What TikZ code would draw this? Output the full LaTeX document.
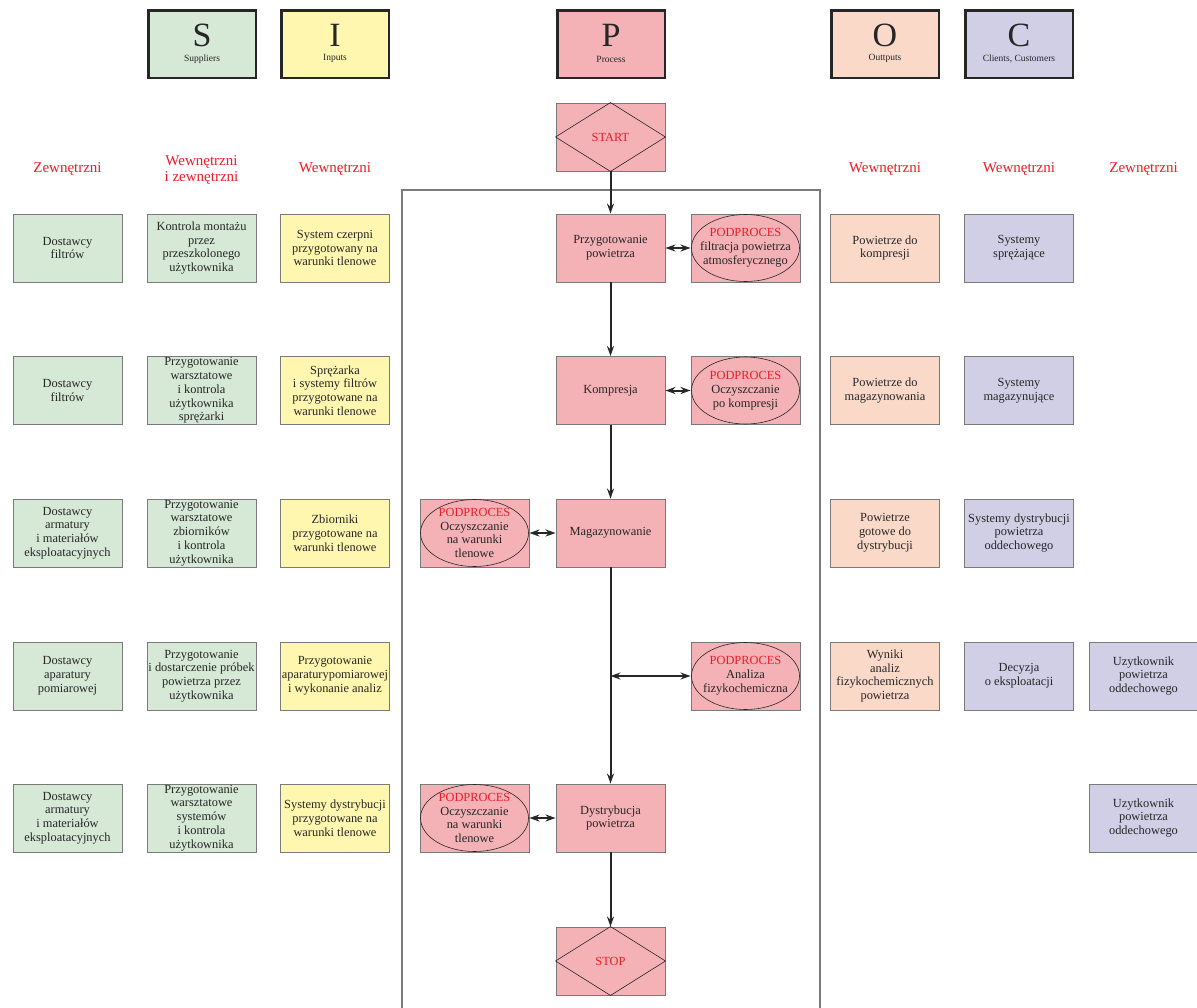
\documentclass[tikz,border=0pt]{standalone}
\usepackage{fontspec}
\setmainfont{Liberation Serif}
\usetikzlibrary{arrows.meta}

\definecolor{sgreen}{HTML}{D6E8D6}
\definecolor{iyellow}{HTML}{FFF7B0}
\definecolor{ppink}{HTML}{F4B1B6}
\definecolor{opeach}{HTML}{FAD9C9}
\definecolor{clav}{HTML}{D1CFE6}
\definecolor{inkgray}{HTML}{262626}
\definecolor{edgegray}{HTML}{7A7A7A}
\definecolor{podred}{HTML}{EE1C25}

\newcommand{\sipocwidth}{109pt}
\newcommand{\sipocheight}{68pt}

\begin{document}
\begin{tikzpicture}[x=1pt, y=-1pt,
	box/.style={rectangle, draw=edgegray, line width=0.9pt, minimum width=\sipocwidth, minimum height=\sipocheight, inner sep=0pt, align=center, text=inkgray, font=\fontsize{12.4}{13.8}\selectfont},
	hdr/.style={rectangle, draw=inkgray, line width=2.5pt, minimum width=107.5pt, minimum height=67.5pt},
	letter/.style={inner sep=0pt, text=inkgray, font=\fontsize{34}{34}\selectfont},
	sub/.style={inner sep=0pt, text=inkgray, font=\fontsize{9.5}{10}\selectfont},
	who/.style={text=podred, align=center, font=\fontsize{15}{16}\selectfont},
	flow/.style={draw=inkgray, line width=2pt, -{Stealth[length=10pt,width=7pt]}},
	twoway/.style={draw=inkgray, line width=2pt, {Stealth[length=10pt,width=7pt]}-{Stealth[length=10pt,width=7pt]}}]
				\useasboundingbox (0,0) rectangle (1197,1007);
				% Draw the S I P O C headers
				\node [hdr, fill=sgreen] (S) at (202,44) {};
				\node [letter] (Sl) at (202,35) {S};
				\node [sub] (Sn) at (202,59) {Suppliers};
				\node [hdr, fill=iyellow] (I) at (335,44) {};
				\node [letter] (Il) at (335,35) {I};
				\node [sub] (In) at (335,58) {Inputs};
				\node [hdr, fill=ppink] (P) at (611,44) {};
				\node [letter] (Pl) at (611,35) {P};
				\node [sub] (Pn) at (611,59) {Process};
				\node [hdr, fill=opeach] (O) at (885,44) {};
				\node [letter] (Ol) at (885,35) {O};
				\node [sub] (On) at (885,58) {Outtputs};
				\node [hdr, fill=clav] (C) at (1019,44) {};
				\node [letter] (Cl) at (1019,35) {C};
				\node [sub] (Cn) at (1019,59) {Clients, Customers};
				% Who is who
				\node [who] (zs) at (67.5,169) {Zewnętrzni};
				\node [who] (wz) at (201.5,170) {Wewnętrzni\\i zewnętrzni};
				\node [who] (wi) at (335,169) {Wewnętrzni};
				\node [who] (wo) at (885,169) {Wewnętrzni};
				\node [who] (wc) at (1019,169) {Wewnętrzni};
				\node [who] (ze) at (1143.5,169) {Zewnętrzni};
				% The frame round the process
				\draw [edgegray, line width=1.2pt] (402,1008) -- (402,190) -- (820,190) -- (820,1008);
				% Suppliers
				\node [box, fill=sgreen] (s1) at (67.5,248) {Dostawcy\\filtrów};
				\node [box, fill=sgreen] (s2) at (67.5,390.5) {Dostawcy\\filtrów};
				\node [box, fill=sgreen] (s3) at (67.5,533) {Dostawcy\\armatury\\i materiałów\\eksploatacyjnych};
				\node [box, fill=sgreen] (s4) at (67.5,676) {Dostawcy\\aparatury\\pomiarowej};
				\node [box, fill=sgreen] (s5) at (67.5,818) {Dostawcy\\armatury\\i materiałów\\eksploatacyjnych};
				\node [box, fill=sgreen] (t1) at (201.5,248) {Kontrola montażu\\przez\\przeszkolonego\\użytkownika};
				\node [box, fill=sgreen] (t2) at (201.5,390.5) {Przygotowanie\\warsztatowe\\i kontrola\\użytkownika\\sprężarki};
				\node [box, fill=sgreen] (t3) at (201.5,533) {Przygotowanie\\warsztatowe\\zbiorników\\i kontrola\\użytkownika};
				\node [box, fill=sgreen] (t4) at (201.5,676) {Przygotowanie\\i dostarczenie próbek\\powietrza przez\\użytkownika};
				\node [box, fill=sgreen] (t5) at (201.5,818) {Przygotowanie\\warsztatowe\\systemów\\i kontrola\\użytkownika};
				% Inputs
				\node [box, fill=iyellow] (i1) at (335,248) {System czerpni\\przygotowany na\\warunki tlenowe};
				\node [box, fill=iyellow] (i2) at (335,390.5) {Sprężarka\\i systemy filtrów\\przygotowane na\\warunki tlenowe};
				\node [box, fill=iyellow] (i3) at (335,533) {Zbiorniki\\przygotowane na\\warunki tlenowe};
				\node [box, fill=iyellow] (i4) at (335,676) {Przygotowanie\\aparaturypomiarowej\\i wykonanie analiz};
				\node [box, fill=iyellow] (i5) at (335,818) {Systemy dystrybucji\\przygotowane na\\warunki tlenowe};
				% Process
				\node [box, fill=ppink, text=podred] (start) at (610.5,137) {START};
				\draw [inkgray, line width=0.6pt] (start.north) -- (start.east) -- (start.south) -- (start.west) -- cycle;
				\node [box, fill=ppink] (przyg) at (610.5,248) {Przygotowanie\\powietrza};
				\node [box, fill=ppink] (kompr) at (610.5,390.5) {Kompresja};
				\node [box, fill=ppink] (magaz) at (610.5,533) {Magazynowanie};
				\node [box, fill=ppink] (dystr) at (610.5,818) {Dystrybucja\\powietrza};
				\node [box, fill=ppink, text=podred] (stop) at (610.5,961) {STOP};
				\draw [inkgray, line width=0.6pt] (stop.north) -- (stop.east) -- (stop.south) -- (stop.west) -- cycle;
				% Subprocesses
				\node [box, fill=ppink] (filtr) at (745.5,248) {\textcolor{podred}{PODPROCES}\\filtracja powietrza\\atmosferycznego};
				\node [box, fill=ppink] (oczkomp) at (745.5,390.5) {\textcolor{podred}{PODPROCES}\\Oczyszczanie\\po kompresji};
				\node [box, fill=ppink] (oczmag) at (474.5,533) {\textcolor{podred}{PODPROCES}\\Oczyszczanie\\na warunki\\tlenowe};
				\node [box, fill=ppink] (analiza) at (745.5,676) {\textcolor{podred}{PODPROCES}\\Analiza\\fizykochemiczna};
				\node [box, fill=ppink] (oczdys) at (474.5,818) {\textcolor{podred}{PODPROCES}\\Oczyszczanie\\na warunki\\tlenowe};
				\foreach \pod in {filtr, oczkomp, oczmag, analiza, oczdys}
					\draw [inkgray, line width=0.6pt] (\pod.center) ellipse (54pt and 33.5pt);
				% Outputs
				\node [box, fill=opeach] (o1) at (885,248) {Powietrze do\\kompresji};
				\node [box, fill=opeach] (o2) at (885,390.5) {Powietrze do\\magazynowania};
				\node [box, fill=opeach] (o3) at (885,533) {Powietrze\\gotowe do\\dystrybucji};
				\node [box, fill=opeach] (o4) at (885,676) {Wyniki\\analiz\\fizykochemicznych\\powietrza};
				% Clients
				\node [box, fill=clav] (c1) at (1019,248) {Systemy\\sprężające};
				\node [box, fill=clav] (c2) at (1019,390.5) {Systemy\\magazynujące};
				\node [box, fill=clav] (c3) at (1019,533) {Systemy dystrybucji\\powietrza\\oddechowego};
				\node [box, fill=clav] (c4) at (1019,676) {Decyzja\\o eksploatacji};
				\node [box, fill=clav] (u4) at (1143.5,676) {Uzytkownik\\powietrza\\oddechowego};
				\node [box, fill=clav] (u5) at (1143.5,818) {Uzytkownik\\powietrza\\oddechowego};
				% Draw the flow
				\draw [flow] (start) -- (przyg);
				\draw [flow] (przyg) -- (kompr);
				\draw [flow] (kompr) -- (magaz);
				\draw [flow] (magaz) -- (dystr);
				\draw [flow] (dystr) -- (stop);
				\draw [twoway] (przyg) -- (filtr);
				\draw [twoway] (kompr) -- (oczkomp);
				\draw [twoway] (oczmag) -- (magaz);
				\draw [twoway] (oczdys) -- (dystr);
				\coordinate (tap) at (magaz.south |- analiza.west);
				\draw [twoway] (tap) -- (analiza);
\end{tikzpicture}
\end{document}
